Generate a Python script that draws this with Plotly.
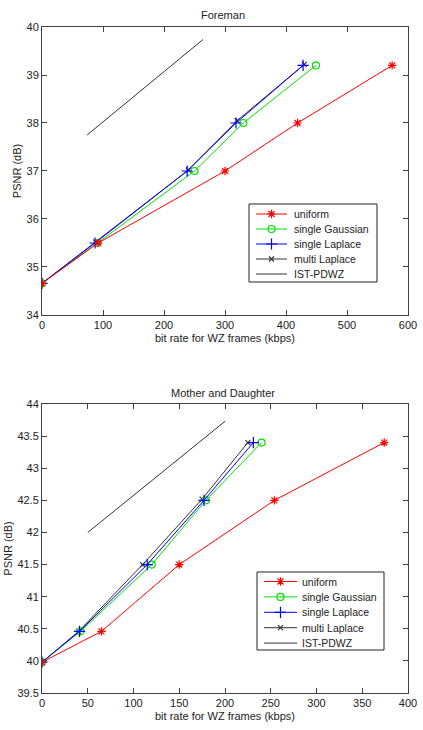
import plotly.graph_objects as go

# ---- Foreman data ----
fm_uniform_x = [0, 92, 300, 419, 574]
fm_uniform_y = [34.66, 35.5, 37.0, 38.0, 39.2]
fm_gauss_x = [0, 91, 250, 330, 449]
fm_gauss_y = [34.66, 35.5, 37.0, 38.0, 39.2]
fm_lap_x = [0, 87, 238, 318, 428]
fm_lap_y = [34.66, 35.5, 37.0, 38.0, 39.2]
fm_multi_x = [0, 88, 240, 320, 430]
fm_multi_y = [34.66, 35.52, 37.02, 38.05, 39.22]
fm_ist_x = [74, 264]
fm_ist_y = [37.75, 39.74]

# ---- Mother and Daughter data ----
md_uniform_x = [0, 65, 150, 254, 374]
md_uniform_y = [39.98, 40.46, 41.5, 42.5, 43.4]
md_gauss_x = [0, 42, 120, 179, 240]
md_gauss_y = [39.98, 40.46, 41.5, 42.5, 43.4]
md_lap_x = [0, 41, 115, 177, 231]
md_lap_y = [39.98, 40.46, 41.5, 42.5, 43.4]
md_multi_x = [0, 40, 110, 175, 225]
md_multi_y = [39.98, 40.46, 41.5, 42.52, 43.4]
md_ist_x = [50, 200]
md_ist_y = [42.0, 43.73]

fm_xticks = [0, 100, 200, 300, 400, 500, 600]
fm_yticks = [34, 35, 36, 37, 38, 39, 40]
md_xticks = [0, 50, 100, 150, 200, 250, 300, 350, 400]
md_yticks = [39.5, 40, 40.5, 41, 41.5, 42, 42.5, 43, 43.5, 44]
md_yticklabels = ["39.5", "40", "40.5", "41", "41.5", "42", "42.5", "43", "43.5", "44"]

names = ["uniform", "single Gaussian", "single Laplace", "multi Laplace", "IST-PDWZ"]
colors = ["#ff0000", "#00e000", "#0000ff", "#333333", "#333333"]
symbols = ["asterisk-open", "circle-open", "cross-thin-open", "x-thin-open", None]
msizes = [7, 7, 8, 5, 0]

fig = go.Figure()

sets = [
    ("x", "y", [(fm_uniform_x, fm_uniform_y), (fm_gauss_x, fm_gauss_y), (fm_lap_x, fm_lap_y),
                (fm_multi_x, fm_multi_y), (fm_ist_x, fm_ist_y)]),
    ("x2", "y2", [(md_uniform_x, md_uniform_y), (md_gauss_x, md_gauss_y), (md_lap_x, md_lap_y),
                  (md_multi_x, md_multi_y), (md_ist_x, md_ist_y)]),
]
order = [4, 3, 1, 2, 0]


def marker_for(i):
    return dict(symbol=symbols[i], size=msizes[i], color=colors[i],
                line=dict(color=colors[i], width=1.2))


for xa, ya, data in sets:
    for i in order:
        x, y = data[i]
        fig.add_trace(go.Scatter(x=x, y=y, mode="lines+markers" if symbols[i] else "lines",
                                 name=names[i], line=dict(color=colors[i], width=1),
                                 marker=marker_for(i) if symbols[i] else None,
                                 xaxis=xa, yaxis=ya, showlegend=False, hoverinfo="skip"))

# ---- legends drawn in a pixel-space overlay axis (x3/y3) ----
legend_boxes = [
    (249, 204, 377, 282, 214, 15, 256, 287, 292),
    (257, 572, 384, 650, 581.5, 15.4, 264, 297, 300),
]
shapes = []
annotations = []
for (bx0, by0, bx1, by1, ry0, rstep, lx0, lx1, tx) in legend_boxes:
    shapes.append(dict(type="rect", xref="x3", yref="y3", x0=bx0, y0=by0, x1=bx1, y1=by1,
                       line=dict(color="#222", width=1), fillcolor="white", layer="below"))
    for i, nm in enumerate(names):
        ry = ry0 + i * rstep
        shapes.append(dict(type="line", xref="x3", yref="y3", x0=lx0, x1=lx1, y0=ry, y1=ry,
                           line=dict(color=colors[i], width=1), layer="above"))
        annotations.append(dict(text=nm, xref="x3", yref="y3", x=tx, y=ry, xanchor="left",
                                yanchor="middle", showarrow=False,
                                font=dict(size=10.5, color="#222")))
        if symbols[i]:
            fig.add_trace(go.Scatter(x=[(lx0 + lx1) / 2], y=[ry], mode="markers",
                                     marker=marker_for(i), xaxis="x3", yaxis="y3",
                                     showlegend=False, hoverinfo="skip"))

# subplot titles (paper coords)
annotations.append(dict(text="Foreman", xref="paper", yref="paper", x=0.494,
                        y=(693 - 15) / 666, showarrow=False,
                        xanchor="center", yanchor="middle", font=dict(size=11, color="#222")))
annotations.append(dict(text="Mother and Daughter", xref="paper", yref="paper", x=0.494,
                        y=(693 - 393) / 666, showarrow=False, xanchor="center",
                        yanchor="middle", font=dict(size=11, color="#222")))

axis_common = dict(showgrid=False, zeroline=False, showline=True, linecolor="#404040",
                   linewidth=1, mirror="allticks", ticks="inside", ticklen=5,
                   tickcolor="#404040", tickfont=dict(size=11, color="#222"),
                   automargin=False)
xtitle = dict(text="bit rate for WZ frames (kbps)", standoff=4, font=dict(size=11, color="#222"))
ytitle = dict(text="PSNR (dB)", standoff=2, font=dict(size=11, color="#222"))

fig.update_layout(
    width=423, height=730,
    margin=dict(l=42, r=15, t=27, b=37),
    paper_bgcolor="white", plot_bgcolor="rgba(0,0,0,0)",
    font=dict(family="Liberation Sans, Arial, sans-serif", size=11, color="#222"),
    showlegend=False,
    xaxis=dict(domain=[0, 1], anchor="y", range=[0, 600], tickvals=fm_xticks,
               title=xtitle, **axis_common),
    yaxis=dict(domain=[0.5676, 1], anchor="x", range=[34, 40], tickvals=fm_yticks,
               title=ytitle, **axis_common),
    xaxis2=dict(domain=[0, 1], anchor="y2", range=[0, 400], tickvals=md_xticks,
                title=xtitle, **axis_common),
    yaxis2=dict(domain=[0, 0.4339], anchor="x2", range=[39.5, 44], tickvals=md_yticks,
                ticktext=md_yticklabels, title=ytitle, **axis_common),
    xaxis3=dict(domain=[0, 1], anchor="y3", range=[42, 408], visible=False, fixedrange=True),
    yaxis3=dict(domain=[0, 1], anchor="x3", range=[693, 27], visible=False, fixedrange=True),
    shapes=shapes,
    annotations=annotations,
)

fig.write_html("out.html")
